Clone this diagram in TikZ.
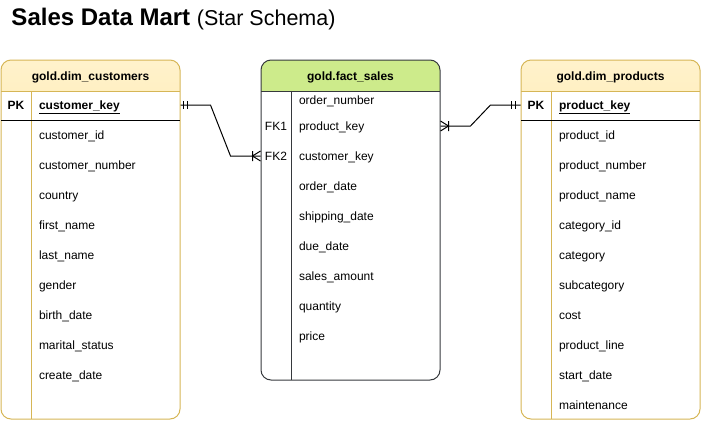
\documentclass[tikz,border=0pt]{standalone}
\usepackage{fontspec}
\setmainfont{Liberation Sans}
\usetikzlibrary{positioning}

\definecolor{dimline}{HTML}{D6B656}
\definecolor{dimtop}{HTML}{FFF2CC}
\definecolor{dimbot}{HTML}{FFD966}
\definecolor{factline}{HTML}{36393D}
\definecolor{facthead}{HTML}{CDEB8B}

\tikzset{
  dimtab/.style={draw=dimline, fill=white, rounded corners=10pt,
    minimum width=179pt, minimum height=359pt, inner sep=0pt,
    path picture={\shade[sharp corners, top color=dimtop, bottom color=dimbot]
      (path picture bounding box.north west) rectangle
      ([yshift=-31pt]path picture bounding box.north east);}},
  facttab/.style={draw=factline, fill=white, rounded corners=10pt,
    minimum width=179pt, minimum height=320pt, inner sep=0pt,
    path picture={\fill[sharp corners, facthead]
      (path picture bounding box.north west) rectangle
      ([yshift=-31pt]path picture bounding box.north east);}},
  head/.style={font=\fontsize{12}{14}\selectfont\bfseries, inner sep=0pt,
    text height=10.5pt, text depth=1.5pt},
  key/.style={font=\fontsize{12}{14}\selectfont\bfseries, inner sep=0pt,
    text height=10.5pt, text depth=1.5pt},
  fk/.style={font=\fontsize{12}{14}\selectfont, inner sep=0pt,
    text height=10.5pt, text depth=1.5pt},
  field/.style={font=\fontsize{12}{14}\selectfont, text width=120pt, align=left,
    inner sep=0pt, text height=10.5pt, text depth=1.5pt},
}

\begin{document}
\begin{tikzpicture}[x=1pt, y=-1pt, node distance=30pt, line width=1pt]
  \useasboundingbox (0,0) rectangle (701,421);

  \node[anchor=base west, inner sep=0pt] (title) at (11,25)
    {\fontsize{24}{28}\selectfont\bfseries Sales Data Mart \fontsize{21.5}{24}\selectfont\mdseries (Star Schema)};

  \node[dimtab] (cust) at (90.5,239.5) {};
  \node[facttab] (fact) at (350.5,220) {};
  \node[dimtab] (prod) at (610.5,239.5) {};

  \node[head] (custhead) at (90.5,75.5) {gold.dim\_customers};
  \node[head] (facthd) at (350.5,75.5) {gold.fact\_sales};
  \node[head] (prodhead) at (610.5,75.5) {gold.dim\_products};

  \draw[dimline] (1,91) -- (180,91) (31,91) -- (31,419);
  \draw[dimline] (521,91) -- (700,91) (551,91) -- (551,419);
  \draw[factline] (261,91) -- (440,91) (291,91) -- (291,380);
  \draw (1,120) -- (180,120);
  \draw (521,120) -- (700,120);

  \node[key] (pkc) at (16,105) {PK};
  \node[field, font=\fontsize{12}{14}\selectfont\bfseries] (ckey) at (99,105) {\underline{customer\_key}};
  \node[field] (cid) [below of=ckey] {customer\_id};
  \node[field] (cnum) [below of=cid] {customer\_number};
  \node[field] (ccountry) [below of=cnum] {country};
  \node[field] (cfirst) [below of=ccountry] {first\_name};
  \node[field] (clast) [below of=cfirst] {last\_name};
  \node[field] (cgender) [below of=clast] {gender};
  \node[field] (cbirth) [below of=cgender] {birth\_date};
  \node[field] (cmarital) [below of=cbirth] {marital\_status};
  \node[field] (ccreate) [below of=cmarital] {create\_date};

  \node[field] (ordn) at (359,100) {order\_number};
  \node[fk] (fk1) at (276,126) {FK1};
  \node[field] (fpkey) at (359,126) {product\_key};
  \node[fk] (fk2) at (276,156) {FK2};
  \node[field] (fckey) [below of=fpkey] {customer\_key};
  \node[field] (odate) [below of=fckey] {order\_date};
  \node[field] (sdate) [below of=odate] {shipping\_date};
  \node[field] (ddate) [below of=sdate] {due\_date};
  \node[field] (amount) [below of=ddate] {sales\_amount};
  \node[field] (qty) [below of=amount] {quantity};
  \node[field] (price) [below of=qty] {price};

  \node[key] (pkp) at (536,105) {PK};
  \node[field, font=\fontsize{12}{14}\selectfont\bfseries] (pkey) at (619,105) {\underline{product\_key}};
  \node[field] (pid) [below of=pkey] {product\_id};
  \node[field] (pnum) [below of=pid] {product\_number};
  \node[field] (pname) [below of=pnum] {product\_name};
  \node[field] (catid) [below of=pname] {category\_id};
  \node[field] (cat) [below of=catid] {category};
  \node[field] (subcat) [below of=cat] {subcategory};
  \node[field] (cost) [below of=subcat] {cost};
  \node[field] (pline) [below of=cost] {product\_line};
  \node[field] (start) [below of=pline] {start\_date};
  \node[field] (maint) [below of=start] {maintenance};

  \coordinate (c1) at (cust.east |- ckey);
  \coordinate (c2) at (fact.west |- fk2);
  \coordinate (c3) at (fact.east |- fk1);
  \coordinate (c4) at (prod.west |- pkey);

  \draw (c1) -- ++(30,0) -- ++(20,51) -- (c2);
  \draw (c1) ++(3,-4) -- ++(0,8) (c1) ++(7,-4) -- ++(0,8);
  \draw (c2) ++(0,-5) -- ++(-8,5) -- ++(8,5) (c2) ++(-8,-5) -- ++(0,10);

  \draw (c3) -- ++(30,0) -- ++(20,-21) -- (c4);
  \draw (c3) ++(0,-5) -- ++(8,5) -- ++(-8,5) (c3) ++(8,-5) -- ++(0,10);
  \draw (c4) ++(-5,-4) -- ++(0,8) (c4) ++(-9,-4) -- ++(0,8);
\end{tikzpicture}
\end{document}
